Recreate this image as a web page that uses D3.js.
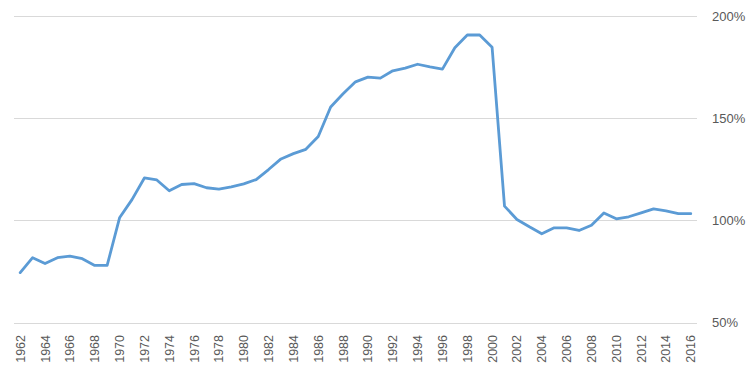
<!DOCTYPE html>
<html>
<head>
<meta charset="utf-8">
<script src="https://cdn.jsdelivr.net/npm/d3@7"></script>
<style>
  html, body { margin: 0; padding: 0; background: #fff; }
  svg { display: block; }
</style>
</head>
<body>
<svg id="chart" width="756" height="382"></svg>
<script>
const years = [];
for (let y = 1962; y <= 2016; y++) years.push(String(y));
const values = [
  74.5, 81.8, 78.9, 81.8, 82.6, 81.3, 78.0, 78.0, 101.3, 110.2,
  120.8, 119.8, 114.5, 117.6, 118.0, 116.0, 115.3, 116.4, 117.9, 120.0,
  124.9, 130.1, 132.7, 134.8, 141.1, 155.5, 162.0, 167.8, 170.1, 169.6,
  173.2, 174.5, 176.4, 175.1, 174.0, 184.5, 190.7, 190.7, 184.7, 107.0,
  100.5, 96.9, 93.5, 96.4, 96.4, 95.1, 97.7, 103.7, 100.8, 101.8,
  103.7, 105.7, 104.7, 103.3, 103.3
];
const yTicks = [50, 100, 150, 200];
const xLabelYears = years.filter((d, i) => i % 2 === 0);

const svg = d3.select("#chart");
const plotLeft = 14, plotRight = 697, plotTop = 16, plotBottom = 322.7;

const x = d3.scalePoint().domain(years).range([plotLeft, plotRight]).padding(0.5);
const y = d3.scaleLinear().domain([50, 200]).range([plotBottom, plotTop]);

// gridlines
svg.append("g").selectAll("line").data(yTicks).join("line")
  .attr("x1", plotLeft).attr("x2", plotRight)
  .attr("y1", d => Math.round(y(d)) + 0.5).attr("y2", d => Math.round(y(d)) + 0.5)
  .attr("stroke", "#D9D9D9").attr("stroke-width", 1);

// right axis labels
svg.append("g").selectAll("text").data(yTicks).join("text")
  .attr("x", 712).attr("y", d => y(d))
  .attr("dy", "0.35em")
  .attr("font-family", "'Liberation Sans', Arial, sans-serif")
  .attr("font-size", "13px")
  .attr("fill", "#595959")
  .text(d => d + "%");

// x labels rotated
svg.append("g").selectAll("text").data(xLabelYears).join("text")
  .attr("transform", d => `translate(${x(d) + 4.5},335) rotate(-90)`)
  .attr("text-anchor", "end")
  .attr("font-family", "'Liberation Sans', Arial, sans-serif")
  .attr("font-size", "12.5px")
  .attr("fill", "#595959")
  .text(d => d);

// line
const line = d3.line().x((d, i) => x(years[i])).y(d => y(d));
svg.append("path").datum(values)
  .attr("d", line)
  .attr("fill", "none")
  .attr("stroke", "#5B9BD5")
  .attr("stroke-width", 2.8)
  .attr("stroke-linejoin", "round")
  .attr("stroke-linecap", "round");
</script>
</body>
</html>
